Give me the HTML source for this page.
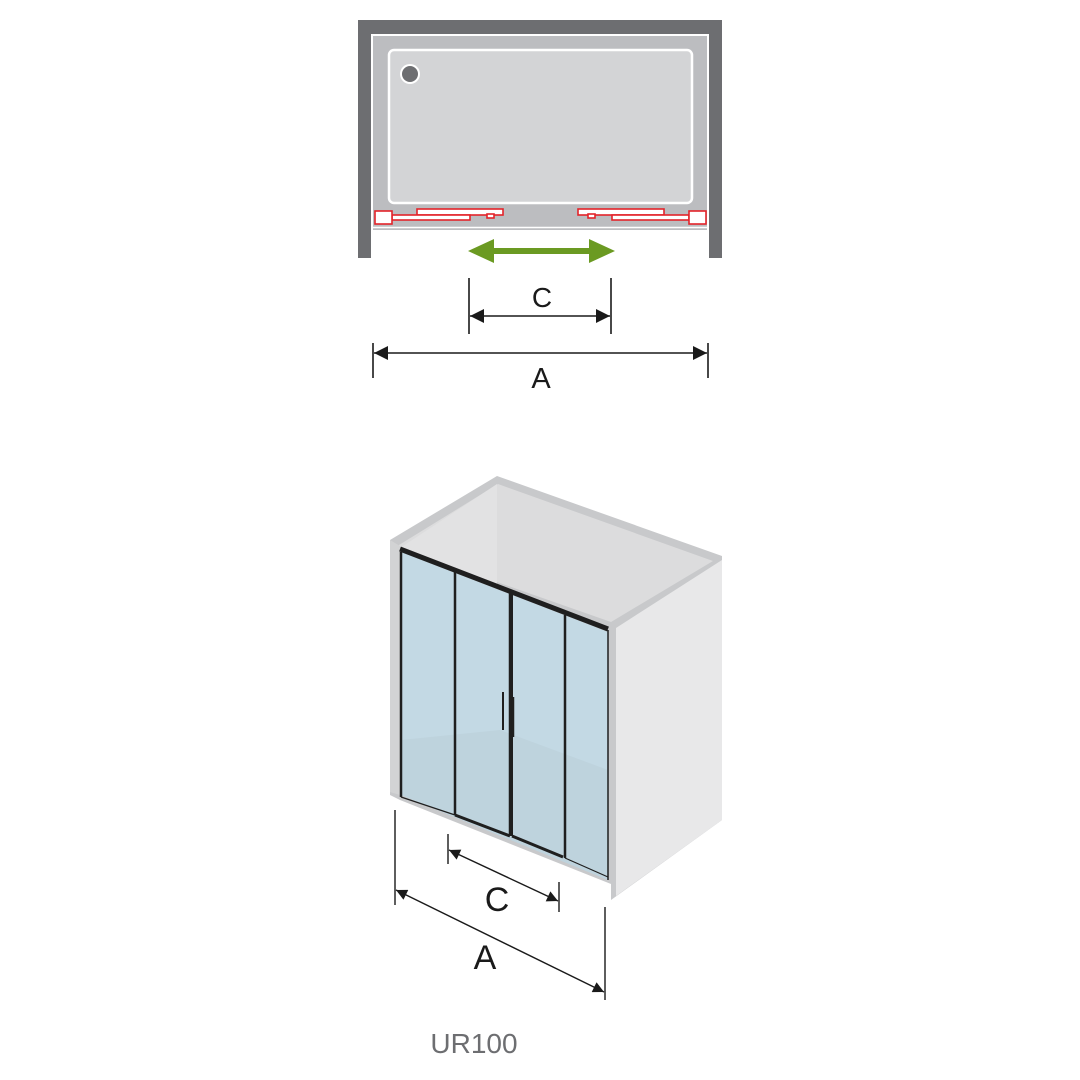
<!DOCTYPE html>
<html><head><style>body{margin:0;background:#fff}svg{display:block}</style></head><body>
<svg width="1080" height="1080" viewBox="0 0 1080 1080" xmlns="http://www.w3.org/2000/svg" font-family="Liberation Sans, sans-serif">
<defs>
<marker id="ah" viewBox="0 0 10 10" refX="10" refY="5" markerWidth="15" markerHeight="11" markerUnits="userSpaceOnUse" orient="auto-start-reverse"><path d="M0,0 L10,5 L0,10 z" fill="#1a1a1a"/></marker>
<marker id="ah2" viewBox="0 0 10 10" refX="10" refY="5" markerWidth="18" markerHeight="14" markerUnits="userSpaceOnUse" orient="auto-start-reverse"><path d="M0,0 L10,5 L0,10 z" fill="#1a1a1a"/></marker>
</defs>
<!-- top plan -->
<rect x="358" y="20" width="364" height="14" fill="#6d6e71"/>
<rect x="358" y="20" width="13" height="238" fill="#6d6e71"/>
<rect x="709" y="20" width="13" height="238" fill="#6d6e71"/>
<rect x="373" y="36" width="334" height="194" fill="#bcbdc0"/>
<rect x="389" y="50" width="303" height="153" rx="5" fill="#d3d4d6" stroke="#fff" stroke-width="2.5"/>
<circle cx="410" cy="74" r="10" fill="#fff"/><circle cx="410" cy="74" r="8" fill="#6d6e71"/>
<line x1="373" y1="227.5" x2="707" y2="227.5" stroke="#fff" stroke-width="1.5"/>
<g fill="#fff" stroke="#e3232a" stroke-width="1.6">
<rect x="417" y="209" width="86" height="6"/><rect x="392" y="215" width="78" height="5"/>
<rect x="375" y="211" width="17" height="13"/><rect x="487" y="214" width="7" height="4"/>
<rect x="578" y="209" width="86" height="6"/><rect x="612" y="215" width="77" height="5"/>
<rect x="689" y="211" width="17" height="13"/><rect x="588" y="214" width="7" height="4"/>
</g>
<line x1="485" y1="251" x2="598" y2="251" stroke="#6b9a22" stroke-width="6"/>
<path d="M468,251 L494,239 L494,263 z M615,251 L589,239 L589,263 z" fill="#6b9a22"/>
<g stroke="#1a1a1a" stroke-width="1.6">
<line x1="469" y1="278" x2="469" y2="334"/><line x1="611" y1="278" x2="611" y2="334"/>
<line x1="470" y1="316" x2="610" y2="316" marker-start="url(#ah2)" marker-end="url(#ah2)"/>
<line x1="373" y1="343" x2="373" y2="378"/><line x1="708" y1="343" x2="708" y2="378"/>
<line x1="374" y1="353" x2="707" y2="353" marker-start="url(#ah2)" marker-end="url(#ah2)"/>
</g>
<text x="542" y="307" font-size="28" text-anchor="middle" fill="#1a1a1a">C</text>
<text x="541" y="388" font-size="29" text-anchor="middle" fill="#1a1a1a">A</text>
<!-- 3D -->
<polygon points="390,540 497,476 722,556 722,820 611,900 611,884 400,800 390,795" fill="#c8c9cb"/>
<polygon points="399,545 498,484 713,561 611,622 400,548" fill="#dcdcdd"/>
<polygon points="497,484 497,740 400,795 400,548" fill="#e2e2e3"/>
<polygon points="616,628 722,560 722,820 616,896" fill="#e8e8e9"/>
<polygon points="390,540 400,546 400,795 390,792" fill="#d2d3d4"/>
<!-- glass -->
<polygon points="401,552 608,632 608,880 401,795" fill="#c3d9e4"/>
<polygon points="401,740 500,730 608,770 608,880 401,795" fill="#bcd0da" opacity="0.7"/>
<g stroke="#1f1f1f" fill="none">
<line x1="400" y1="549" x2="608" y2="629" stroke-width="5"/>
<line x1="401" y1="552" x2="401" y2="797" stroke-width="2.5"/>
<line x1="455" y1="570" x2="455" y2="815" stroke-width="2.5"/>
<line x1="455" y1="815" x2="510" y2="836" stroke-width="3"/>
<line x1="510" y1="593" x2="510" y2="836" stroke-width="2.5"/>
<line x1="512" y1="593" x2="512" y2="836" stroke-width="2"/>
<line x1="512" y1="836" x2="563" y2="857" stroke-width="3"/>
<line x1="565" y1="615" x2="565" y2="858" stroke-width="2.5"/>
<line x1="401" y1="797" x2="455" y2="815" stroke-width="1.2"/>
<line x1="565" y1="858" x2="608" y2="877" stroke-width="1.2"/>
<line x1="608" y1="630" x2="608" y2="880" stroke-width="1.5"/>
<line x1="503" y1="692" x2="503" y2="730" stroke-width="2"/>
<line x1="513" y1="697" x2="513" y2="737" stroke-width="2.5"/>
</g>
<g stroke="#1a1a1a" stroke-width="1.4">
<line x1="395" y1="810" x2="395" y2="905"/><line x1="605" y1="907" x2="605" y2="1000"/>
<line x1="396" y1="890" x2="604" y2="992" marker-start="url(#ah)" marker-end="url(#ah)"/>
<line x1="448" y1="834" x2="448" y2="864"/><line x1="559" y1="882" x2="559" y2="912"/>
<line x1="449" y1="850" x2="558" y2="901" marker-start="url(#ah)" marker-end="url(#ah)"/>
</g>
<text x="497" y="911" font-size="34" text-anchor="middle" fill="#1a1a1a">C</text>
<text x="485" y="969" font-size="34" text-anchor="middle" fill="#1a1a1a">A</text>
<text x="474" y="1053" font-size="28" text-anchor="middle" fill="#6d6e71">UR100</text>
</svg>
</body></html>
